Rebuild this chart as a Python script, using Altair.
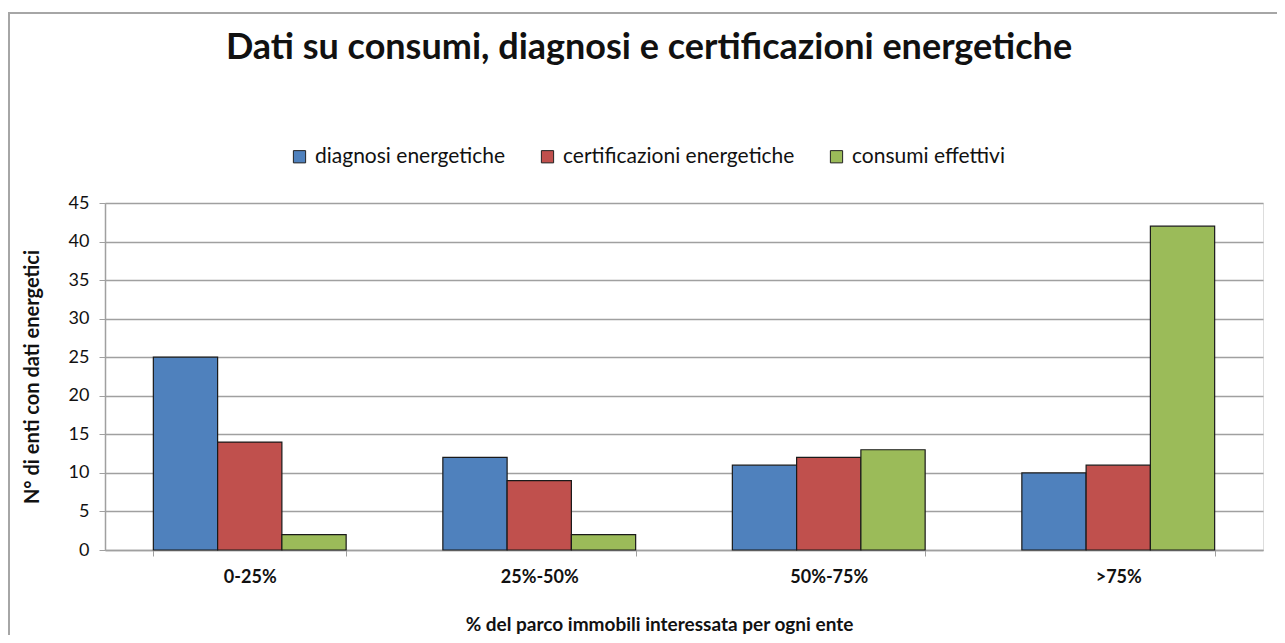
import altair as alt
import pandas as pd

categories = ["0-25%", "25%-50%", "50%-75%", ">75%"]
series = ["diagnosi energetiche", "certificazioni energetiche", "consumi effettivi"]
diagnosi = [25, 12, 11, 10]
certificazioni = [14, 9, 12, 11]
consumi = [2, 2, 13, 42]
colors = ["#4F81BD", "#C0504D", "#9BBB59"]
y_ticks = [0, 5, 10, 15, 20, 25, 30, 35, 40, 45]

rows = []
for name, vals in zip(series, [diagnosi, certificazioni, consumi]):
    for c, v in zip(categories, vals):
        rows.append({"categoria": c, "serie": name, "valore": v})
df = pd.DataFrame(rows)

FONT = "Lato"
W, H = 1158, 347

bars = alt.Chart(df).mark_bar(stroke="#1a1a1a", strokeWidth=1.2).encode(
    x=alt.X(
        "categoria:N",
        sort=categories,
        scale=alt.Scale(paddingInner=0.334, paddingOuter=0.167),
        axis=alt.Axis(
            title="% del parco immobili interessata per ogni ente",
            titleFont=FONT, titleFontSize=19, titleFontWeight="bold", titleColor="#111",
            titleX=554, titleY=74, titleAlign="center", titleBaseline="middle",
            labelFont=FONT, labelFontSize=18, labelFontWeight="bold", labelColor="#111",
            labelAngle=0, labelPadding=12, tickSize=6, tickBand="extent",
            tickColor="#a0a0a0", domainColor="#a0a0a0", domainWidth=1.5, grid=False,
        ),
    ),
    xOffset=alt.XOffset("serie:N", sort=series, scale=alt.Scale(paddingInner=0, paddingOuter=0)),
    y=alt.Y(
        "valore:Q",
        scale=alt.Scale(domain=[0, 45], nice=False),
        axis=alt.Axis(
            values=y_ticks,
            title="N° di enti con dati energetici",
            titleFont=FONT, titleFontSize=20, titleFontWeight="bold", titleColor="#111",
            titleX=-73, titleY=H / 2, titleAngle=-90, titleAlign="center", titleBaseline="middle",
            labelFont=FONT, labelFontSize=18, labelColor="#111", labelPadding=10,
            tickSize=6, tickColor="#a0a0a0", domainColor="#a0a0a0", domainWidth=1.5,
            grid=True, gridColor="#a0a0a0", gridWidth=1.5,
        ),
    ),
    color=alt.Color(
        "serie:N",
        sort=series,
        scale=alt.Scale(domain=series, range=colors),
        legend=alt.Legend(
            title=None, orient="none", legendX=184, legendY=-57, direction="horizontal",
            labelFont=FONT, labelFontSize=21, labelColor="#111", labelOffset=5, labelLimit=500,
            symbolType="square", symbolSize=150, symbolStrokeColor="#222",
            symbolStrokeWidth=1, symbolOpacity=1, columnPadding=31,
        ),
    ),
)

border = alt.Chart(pd.DataFrame({"a": [0]})).mark_rect(
    fill=None, stroke="#a6a6a6", strokeWidth=2
).encode(
    x=alt.value(-96), x2=alt.value(1400), y=alt.value(-190), y2=alt.value(700)
)

chart = alt.layer(border, bars).properties(
    width=W,
    height=H,
    autosize=alt.AutoSizeParams(type="none"),
    padding={"left": 97, "top": 195, "right": 14, "bottom": 85},
    title=alt.TitleParams(
        "Dati su consumi, diagnosi e certificazioni energetiche",
        font=FONT, fontSize=36, fontWeight="bold", color="#111",
        anchor="middle", dx=-35, offset=-55,
    ),
).configure_view(stroke=None).configure(background="white")

chart.save("out.html", embed_options={"renderer": "svg", "actions": False})
